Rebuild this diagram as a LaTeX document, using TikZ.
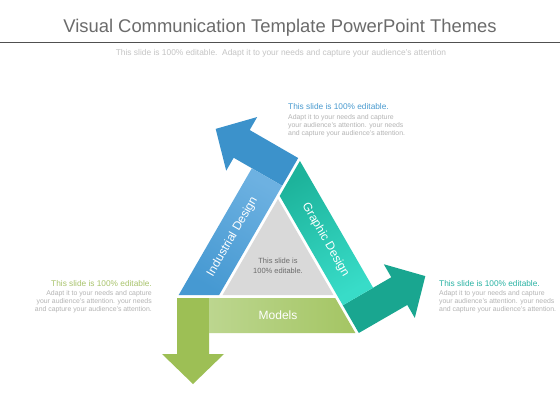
\documentclass[tikz,border=0pt]{standalone}
\usepackage{fontspec}
\setmainfont{Liberation Sans}
\usepackage{xcolor}
\usepackage{tikz}
\usetikzlibrary{positioning,calc}

\definecolor{titlegray}{HTML}{6B6B6B}
\definecolor{rulegray}{HTML}{505050}
\definecolor{subgray}{HTML}{C4C4C4}
\definecolor{bodygray}{HTML}{B4B4B4}
\definecolor{coregray}{HTML}{D9D9D9}
\definecolor{modelsdark}{HTML}{9DBF55}
\definecolor{modelsstart}{HTML}{A4C563}
\definecolor{modelslight}{HTML}{BCD68F}
\definecolor{indusdark}{HTML}{3C92CB}
\definecolor{indusstart}{HTML}{4699D2}
\definecolor{induslight}{HTML}{6DB1E1}
\definecolor{graphdark}{HTML}{19A690}
\definecolor{graphstart}{HTML}{1DB39B}
\definecolor{graphlight}{HTML}{38DCC8}
\definecolor{headgreen}{HTML}{A9C46C}
\definecolor{headblue}{HTML}{4A9BD0}
\definecolor{headteal}{HTML}{2AB3A4}

\begin{document}
\begin{tikzpicture}[x=1pt, y=-1pt,
    head/.style={inner sep=0pt, font=\fontsize{8.3}{10}\selectfont},
    body/.style={inner sep=0pt, text=bodygray, font=\fontsize{6.9}{8}\selectfont},
    bandlabel/.style={text=white, font=\fontsize{12}{14}\selectfont}]
    \useasboundingbox[fill=white] (0,0) rectangle (560,420);

    % Heading
    \node[anchor=base, text=titlegray, font=\fontsize{18.4}{20}\selectfont] (title) at (280,32.5)
        {Visual Communication Template PowerPoint Themes};
    \draw[rulegray, line width=1.3pt] (0,42.7) -- (560,42.7);
    \node[anchor=base, text=subgray, font=\fontsize{8.4}{10}\selectfont] (subtitle) at (281,55.5)
        {This slide is 100\% editable.\ \ Adapt it to your needs and capture your audience's attention};

    % Triangle of arrows
    \begin{scope}[shift={(278,263)}, y=1pt]
        \fill[coregray] (90:64) -- (210:64) -- (330:64) -- cycle;
        \foreach \ang/\dk/\st/\lt/\sa in {0/modelsdark/modelsstart/modelslight/90,
                                        -120/indusdark/indusstart/induslight/-30,
                                        120/graphdark/graphstart/graphlight/210}
        {
            \begin{scope}[rotate=\ang]
                \fill[\dk] (-101,-35) -- (-69,-35) -- (-69,-91) -- (-54,-91) -- (-85,-121)
                    -- (-116,-91) -- (-101,-91) -- cycle;
                \shade[top color=\lt, bottom color=\st, shading angle=\sa]
                    (-69,-35) -- (57.2,-35) -- (77.4,-70) -- (-69,-70) -- cycle;
            \end{scope}
        }
        \node[bandlabel] (models) at (270:52.5) {Models};
        \node[bandlabel, rotate=60] (industrial) at (150:52.5) {Industrial Design};
        \node[bandlabel, rotate=-60] (graphic) at ([shift={(2,-3)}]30:52.5) {Graphic Design};
        \node[align=center, text=titlegray, font=\fontsize{7.5}{10}\selectfont] (core) at (0,-3)
            {This slide is\\100\% editable.};
    \end{scope}

    % Side notes
    \node[head, anchor=base west, text=headblue] (topHead) at (288,110) {This slide is 100\% editable.};
    \node[body, align=left, anchor=north west] (topBody) at ([yshift=-4.2pt]topHead.base west)
        {Adapt it to your needs and capture\\your audience's attention. your needs\\and capture your audience's attention.};

    \node[head, anchor=base east, text=headgreen] (leftHead) at (152,286) {This slide is 100\% editable.};
    \node[body, align=right, anchor=north east] (leftBody) at ([yshift=-4.2pt]leftHead.base east)
        {Adapt it to your needs and capture\\your audience's attention. your needs\\and capture your audience's attention.};

    \node[head, anchor=base west, text=headteal] (rightHead) at (439,286) {This slide is 100\% editable.};
    \node[body, align=left, anchor=north west] (rightBody) at ([yshift=-4.2pt]rightHead.base west)
        {Adapt it to your needs and capture\\your audience's attention. your needs\\and capture your audience's attention.};
\end{tikzpicture}
\end{document}
